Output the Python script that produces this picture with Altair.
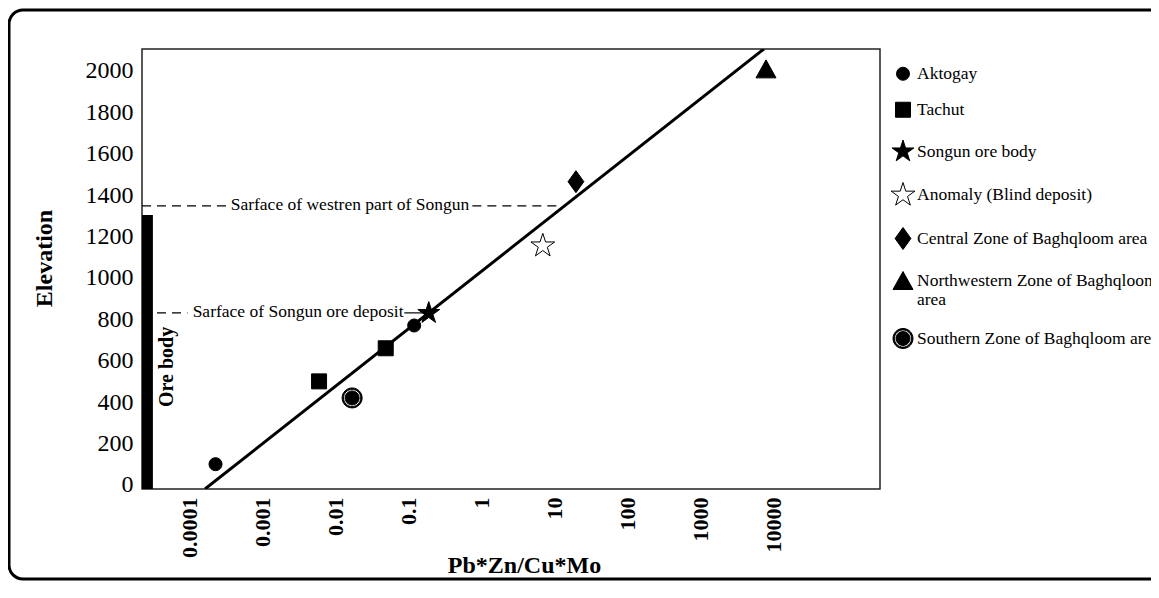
import altair as alt
import pandas as pd

SERIF = "Liberation Serif"

# ---- data ----
groups = [
    "Aktogay", "Tachut", "Songun ore body", "Anomaly (Blind deposit)",
    "Central Zone of Baghqloom area", "Northwestern Zone of Baghqloom area",
    "Southern Zone of Baghqloom area",
]
pt_group = ["Aktogay", "Aktogay", "Tachut", "Tachut", "Southern Zone of Baghqloom area",
            "Songun ore body", "Anomaly (Blind deposit)", "Central Zone of Baghqloom area",
            "Northwestern Zone of Baghqloom area"]
pt_ratio = [0.00023, 0.12, 0.006, 0.049, 0.017, 0.19, 6.9, 19.6, 7800]
pt_elev = [100, 770, 500, 660, 420, 830, 1155, 1465, 2010]

fit_ratio = [0.000165, 7300]
fit_elev = [-20, 2106]

x_ticks = [0.0001, 0.001, 0.01, 0.1, 1, 10, 100, 1000, 10000]
y_ticks = [0, 200, 400, 600, 800, 1000, 1200, 1400, 1600, 1800, 2000]

x_min, x_max = 2.27e-5, 2.83e5
y_min, y_max = -20, 2106

ore_x = [x_min, 3.2e-5]
ore_top = 1304
ore_label = "Ore body"
ore_label_pos = [5.0e-5, 570]

surf_west_elev = 1348
surf_west_dash = [[x_min, 3.3e-4], [0.75, 12]]
surf_west_text = "Sarface of westren part of Songun"
surf_west_text_x = 0.0159

surf_songun_elev = 831
surf_songun_dash = [[x_min, 9.5e-5]]
surf_songun_solid = [0.088, 0.19]
surf_songun_text = "Sarface of Songun ore deposit"
surf_songun_text_x = 0.0031

# ---- symbol shapes ----
star = ("M0,-1 L0.2234,-0.3074 L0.951,-0.309 L0.3614,0.1174 L0.588,0.809 L0,0.38 "
        "L-0.588,0.809 L-0.3614,0.1174 L-0.951,-0.309 L-0.2234,-0.3074 Z")
diamond = "M0,-1 L0.72,0 L0,1 L-0.72,0 Z"
triangle = "M0,-0.9 L1,0.9 L-1,0.9 Z"
bullseye = ("M1,0 A1,1 0 1,1 -1,0 A1,1 0 1,1 1,0 Z "
            "M0.86,0 A0.86,0.86 0 1,0 -0.86,0 A0.86,0.86 0 1,0 0.86,0 Z "
            "M0.7,0 A0.7,0.7 0 1,1 -0.7,0 A0.7,0.7 0 1,1 0.7,0 Z")
shapes = ["circle", "square", star, star, diamond, triangle, bullseye]
fills = ["black", "black", "black", "white", "black", "black", "black"]
strokes = ["black"] * 7
sizes = [170, 225, 530, 625, 484, 400, 400]

xscale = alt.Scale(type="log", domain=[x_min, x_max], nice=False)
yscale = alt.Scale(domain=[y_min, y_max], nice=False, zero=False)

pts = pd.DataFrame({"group": pt_group, "ratio": pt_ratio, "elev": pt_elev})
fit = pd.DataFrame({"ratio": fit_ratio, "elev": fit_elev})

x_axis = alt.Axis(values=x_ticks, format=".4~f", labelAngle=270, labelAlign="right",
                  labelBaseline="middle", labelFont=SERIF, labelFontWeight="bold",
                  labelFontSize=22, labelColor="black", labelPadding=8, ticks=False,
                  domain=False, grid=False, labelFlush=False, labelOverlap=False,
                  title="Pb*Zn/Cu*Mo", titleFont=SERIF, titleFontSize=24,
                  titleFontWeight="bold", titleColor="black", titleX=382, titleY=64,
                  titleBaseline="top")
y_axis = alt.Axis(values=y_ticks, format="d", labelFont=SERIF, labelFontSize=24,
                  labelColor="black", labelPadding=9, ticks=False, domain=False, grid=False,
                  labelFlush=False, labelOverlap=False, title="Elevation", titleFont=SERIF,
                  titleFontSize=24, titleFontWeight="bold", titleColor="black",
                  titleX=-91, titleY=209, titleBaseline="alphabetic")

# dashed reference lines
dash_rows = []
for seg in surf_west_dash:
    dash_rows.append({"x": seg[0], "x2": seg[1], "y": surf_west_elev})
for seg in surf_songun_dash:
    dash_rows.append({"x": seg[0], "x2": seg[1], "y": surf_songun_elev})
dashes = alt.Chart(pd.DataFrame(dash_rows)).mark_rule(
    strokeDash=[9, 6], color="black", strokeWidth=1.2
).encode(x=alt.X("x:Q", scale=xscale, axis=x_axis), x2="x2:Q",
         y=alt.Y("y:Q", scale=yscale, axis=y_axis))

solid = alt.Chart(pd.DataFrame({"x": [surf_songun_solid[0]], "x2": [surf_songun_solid[1]],
                                "y": [surf_songun_elev]})).mark_rule(
    color="black", strokeWidth=1.2
).encode(x=alt.X("x:Q", scale=xscale), x2="x2:Q", y=alt.Y("y:Q", scale=yscale))

ann = alt.Chart(pd.DataFrame({
    "x": [surf_west_text_x, surf_songun_text_x],
    "y": [surf_west_elev, surf_songun_elev],
    "t": [surf_west_text, surf_songun_text],
})).mark_text(font=SERIF, fontSize=17.5, color="black", baseline="middle", dy=-1).encode(
    x=alt.X("x:Q", scale=xscale), y=alt.Y("y:Q", scale=yscale), text="t:N")

ore = alt.Chart(pd.DataFrame({"x": [ore_x[0]], "x2": [ore_x[1]], "y": [y_min],
                              "y2": [ore_top]})).mark_rect(color="black").encode(
    x=alt.X("x:Q", scale=xscale), x2="x2:Q", y=alt.Y("y:Q", scale=yscale), y2="y2:Q")

ore_txt = alt.Chart(pd.DataFrame({"x": [ore_label_pos[0]], "y": [ore_label_pos[1]],
                                  "t": [ore_label]})).mark_text(
    font=SERIF, fontSize=20, fontWeight="bold", angle=270, color="black",
    baseline="middle", align="center").encode(
    x=alt.X("x:Q", scale=xscale), y=alt.Y("y:Q", scale=yscale), text="t:N")

line = alt.Chart(fit).mark_line(color="black", strokeWidth=3, clip=True).encode(
    x=alt.X("ratio:Q", scale=xscale), y=alt.Y("elev:Q", scale=yscale))

legend = alt.Legend(title=None, orient="none", legendX=748, legendY=16, direction="vertical",
                    labelFont=SERIF, labelFontSize=17.5, labelColor="black", labelLimit=600,
                    rowPadding=17, labelOffset=1, padding=0, symbolStrokeWidth=1,
                    labelExpr="datum.label == 'Northwestern Zone of Baghqloom area' ? "
                              "['Northwestern Zone of Baghqloom', 'area'] : datum.label")

points = alt.Chart(pts).mark_point(filled=True, strokeWidth=1,
                                   opacity=1, strokeJoin="round").encode(
    x=alt.X("ratio:Q", scale=xscale),
    y=alt.Y("elev:Q", scale=yscale),
    shape=alt.Shape("group:N", scale=alt.Scale(domain=groups, range=shapes), legend=legend),
    fill=alt.Fill("group:N", scale=alt.Scale(domain=groups, range=fills), legend=legend),
    stroke=alt.Stroke("group:N", scale=alt.Scale(domain=groups, range=strokes), legend=legend),
    size=alt.Size("group:N", scale=alt.Scale(type="ordinal", domain=groups, range=sizes),
                  legend=legend),
)

frame = alt.Chart(pd.DataFrame({"k": [0]})).mark_rect(
    fill="transparent", stroke="black", strokeWidth=3, cornerRadius=14
).encode(x=alt.value(-133), x2=alt.value(1060), y=alt.value(-39), y2=alt.value(530))

chart = alt.layer(frame, dashes, solid, ann, ore, ore_txt, line, points).properties(
    width=738, height=440,
    autosize=alt.AutoSizeParams(type="none"),
    padding={"left": 134, "top": 41, "right": 271, "bottom": 92},
    background="white",
).configure_view(stroke="#222", strokeWidth=1.5)

chart.save("out.html", embed_options={"renderer": "svg", "actions": False})
